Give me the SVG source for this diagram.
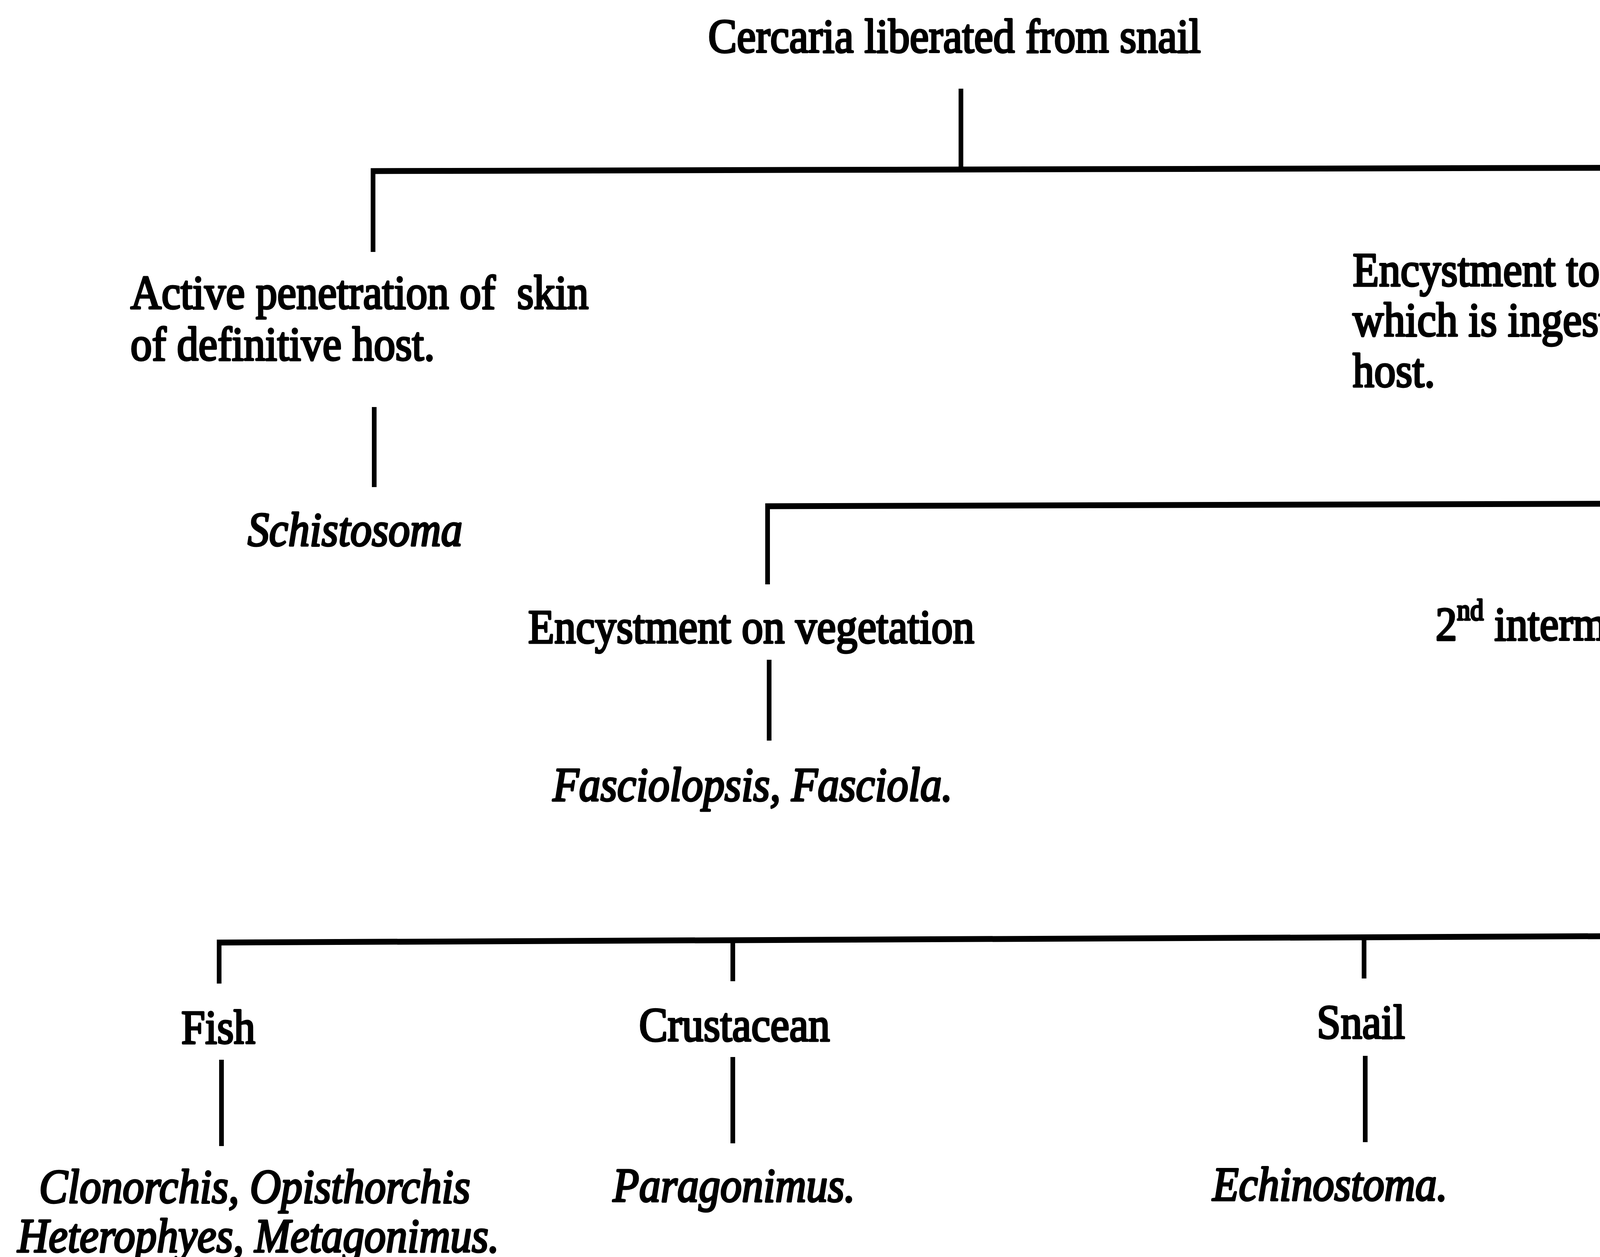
<svg xmlns="http://www.w3.org/2000/svg" width="5234" height="3218" viewBox="0 0 5234 3218">
<style>
text{font-family:"Liberation Serif","Times New Roman",serif;font-size:110px;fill:#000;stroke:#000;stroke-width:4.5;stroke-linejoin:round}
.it{font-style:italic}
.v{stroke:#000;stroke-width:12;fill:none}
.h{stroke:#000;stroke-width:15;fill:none}
</style>
<rect width="5234" height="3218" fill="#fff"/>
<g id="connectors">
<line class="v" x1="2460" y1="227" x2="2460" y2="432"/>
<line class="h" x1="949" y1="438" x2="4696" y2="428"/>
<line class="v" x1="955" y1="432" x2="955" y2="645"/>
<line class="v" x1="4690" y1="422" x2="4690" y2="635"/>
<line class="v" x1="958" y1="1042" x2="958" y2="1247"/>
<line class="v" x1="4697" y1="978" x2="4697" y2="1484"/>
<line class="h" x1="1959" y1="1296" x2="4703" y2="1288"/>
<line class="v" x1="1965" y1="1290" x2="1965" y2="1496"/>
<line class="v" x1="1969" y1="1689" x2="1969" y2="1896"/>
<line class="v" x1="4700" y1="1682" x2="4700" y2="2392"/>
<line class="h" x1="555" y1="2413" x2="4909" y2="2393"/>
<line class="v" x1="561" y1="2410" x2="561" y2="2518"/>
<line class="v" x1="1876" y1="2405" x2="1876" y2="2512"/>
<line class="v" x1="3492" y1="2398" x2="3492" y2="2505"/>
<line class="v" x1="4903" y1="2390" x2="4903" y2="2495"/>
<line class="v" x1="567" y1="2713" x2="567" y2="2934"/>
<line class="v" x1="1876" y1="2706" x2="1876" y2="2927"/>
<line class="v" x1="3495" y1="2703" x2="3495" y2="2924"/>
<line class="v" x1="4907" y1="2693" x2="4907" y2="2911"/>
</g>
<g id="root"><text transform="translate(1813 134) scale(1 1.11)">Cercaria liberated from snail</text></g>
<g id="active"><text transform="translate(334 790) scale(1 1.11)" xml:space="preserve">Active penetration of  skin</text><text transform="translate(334 922) scale(1 1.11)">of definitive host.</text></g>
<g id="encystment"><text transform="translate(3463 732) scale(1 1.11)">Encystment to give metacercaria,</text><text transform="translate(3463 860) scale(1 1.11)">which is ingested by definitive</text><text transform="translate(3463 990) scale(1 1.11)">host.</text></g>
<g id="schistosoma"><text class="it" transform="translate(634 1397) scale(1 1.11)">Schistosoma</text></g>
<g id="vegetation"><text transform="translate(1352 1646) scale(1 1.11)">Encystment on vegetation</text></g>
<g id="fasciola"><text class="it" transform="translate(1415 2050) scale(1 1.11)">Fasciolopsis, Fasciola.</text></g>
<g id="second-host"><text transform="translate(3675 1639) scale(1 1.11)">2<tspan font-size="68" dy="-47">nd</tspan><tspan dy="47"> intermediate host required</tspan></text></g>
<g id="fish"><text transform="translate(464 2671) scale(1 1.11)">Fish</text></g>
<g id="crustacean"><text transform="translate(1636 2665) scale(1 1.11)">Crustacean</text></g>
<g id="snail"><text transform="translate(3371 2658) scale(1 1.11)">Snail</text></g>
<g id="insect"><text transform="translate(4773 2650) scale(1 1.11)">Insect.</text></g>
<g id="fish-genera"><text class="it" transform="translate(100 3079) scale(1 1.11)">Clonorchis, Opisthorchis</text><text class="it" transform="translate(45 3205) scale(1 1.11)">Heterophyes, Metagonimus.</text></g>
<g id="paragonimus"><text class="it" transform="translate(1569 3076) scale(1 1.11)">Paragonimus.</text></g>
<g id="echinostoma"><text class="it" transform="translate(3104 3073) scale(1 1.11)">Echinostoma.</text></g>
<g id="insect-genera"><text class="it" transform="translate(4558 3057) scale(1 1.11)">Dicrocoelium</text><text class="it" transform="translate(4600 3185) scale(1 1.11)">Plagiorchis.</text></g>
</svg>
